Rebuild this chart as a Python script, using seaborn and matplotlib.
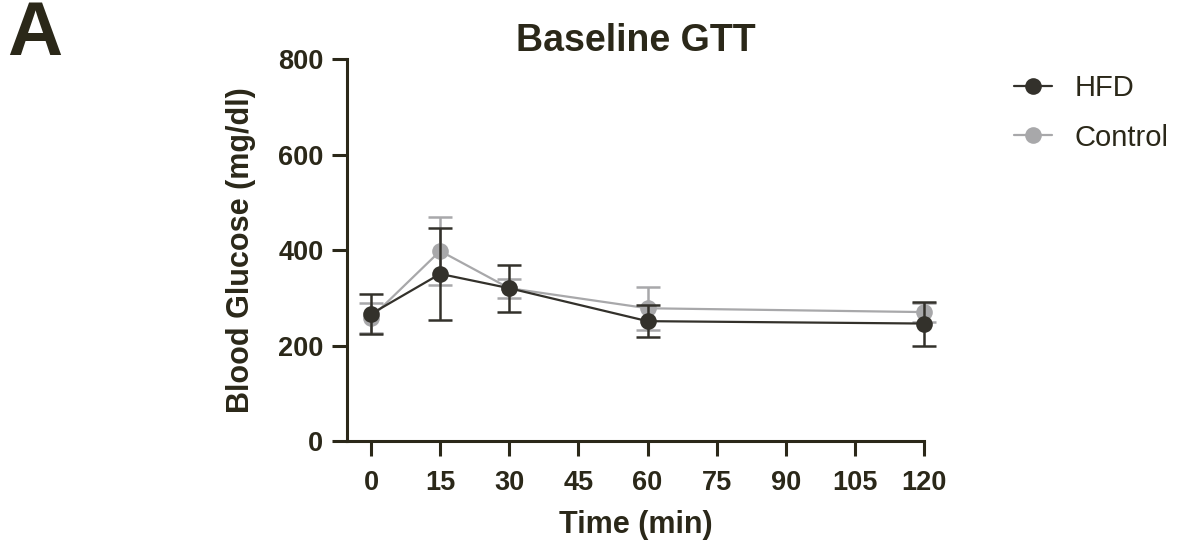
import matplotlib
matplotlib.use("Agg")
import pandas as pd
import matplotlib.pyplot as plt
import seaborn as sns

# values (mean +/- SD)
time = [0, 15, 30, 60, 120]
hfd_mean = [266, 350, 320, 251, 246]
hfd_sd = [41, 97, 49, 33, 46]
ctrl_mean = [258, 398, 320, 278, 270]
ctrl_sd = [31, 72, 20, 45, 20]
xticks = [0, 15, 30, 45, 60, 75, 90, 105, 120]
yticks = [0, 200, 400, 600, 800]

ink = '#2b2819'
hfd_col = '#33312b'
ctrl_col = '#a8a8aa'

sns.set_style('ticks')
plt.rcParams['font.family'] = ['Liberation Sans', 'DejaVu Sans']

df = pd.DataFrame({
    'time': time * 2,
    'glucose': hfd_mean + ctrl_mean,
    'group': ['HFD'] * len(time) + ['Control'] * len(time),
})

fig = plt.figure(figsize=(11.78, 5.46), dpi=100)
ax = fig.add_axes([0.2946, 0.1923, 0.4898, 0.6996])

# control first so HFD sits on top
ax.errorbar(time, ctrl_mean, yerr=ctrl_sd, fmt='none', ecolor=ctrl_col,
            elinewidth=1.8, capsize=8.5, capthick=1.8, clip_on=False, zorder=2)
sns.lineplot(data=df[df.group == 'Control'], x='time', y='glucose', ax=ax,
             color=ctrl_col, marker='o', markersize=12, markeredgewidth=0,
             linewidth=1.6, label='Control', errorbar=None, clip_on=False, zorder=3)
ax.errorbar(time, hfd_mean, yerr=hfd_sd, fmt='none', ecolor=hfd_col,
            elinewidth=1.8, capsize=8.5, capthick=1.8, clip_on=False, zorder=4)
sns.lineplot(data=df[df.group == 'HFD'], x='time', y='glucose', ax=ax,
             color=hfd_col, marker='o', markersize=12, markeredgewidth=0,
             linewidth=1.6, label='HFD', errorbar=None, clip_on=False, zorder=5)

ax.set_xlim(-5.2, 120)
ax.set_ylim(0, 800)
ax.set_xticks(xticks)
ax.set_yticks(yticks)

for s in ['top', 'right']:
    ax.spines[s].set_visible(False)
for s in ['left', 'bottom']:
    ax.spines[s].set_linewidth(2.2)
    ax.spines[s].set_color(ink)
ax.tick_params(axis='both', length=11, width=2.2, color=ink, labelcolor=ink,
               labelsize=19.5)
ax.tick_params(axis='x', pad=10)
ax.tick_params(axis='y', pad=6)
for lbl in ax.get_xticklabels() + ax.get_yticklabels():
    lbl.set_fontweight('bold')

ax.set_title('Baseline GTT', fontsize=27, fontweight='bold', color=ink, pad=5)
ax.set_xlabel('Time (min)', fontsize=22, fontweight='bold', color=ink)
ax.set_ylabel('Blood Glucose (mg/dl)', fontsize=22, fontweight='bold', color=ink)
ax.xaxis.set_label_coords(0.5, -0.18)
ax.yaxis.set_label_coords(-0.158, 0.5)

handles, labels = ax.get_legend_handles_labels()
leg = ax.legend(handles[::-1], labels[::-1], loc='upper left',
                bbox_to_anchor=(1.11, 1.03), frameon=False, fontsize=21,
                handlelength=1.3, handletextpad=0.8, labelspacing=0.75)
for t in leg.get_texts():
    t.set_color(ink)

fig.text(0.006, 1.0, 'A', fontsize=55, fontweight='bold', color=ink,
         va='top', ha='left')

fig.savefig('out.png', dpi=100)
